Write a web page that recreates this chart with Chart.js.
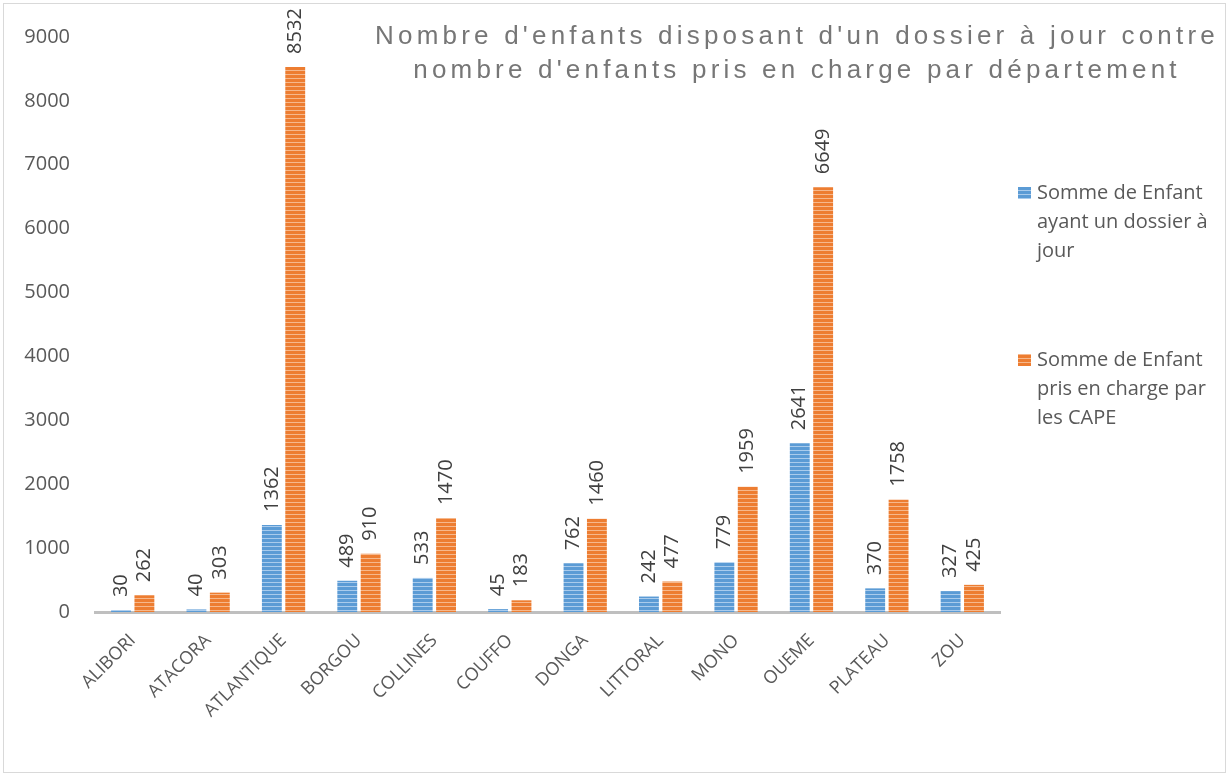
<!DOCTYPE html>
<html>
<head>
<meta charset="utf-8">
<script src="https://cdn.jsdelivr.net/npm/chart.js@4"></script>
<style>
  html, body { margin:0; padding:0; background:#fff; }
  #wrap { width:1228px; height:777px; }
</style>
</head>
<body>
<div id="wrap"><canvas id="chart" width="1228" height="777"></canvas></div>
<script>
/* données */
const departements = ['ALIBORI','ATACORA','ATLANTIQUE','BORGOU','COLLINES','COUFFO','DONGA','LITTORAL','MONO','OUEME','PLATEAU','ZOU']
const dossierAJour = [30,40,1362,489,533,45,762,242,779,2641,370,327]
const prisEnCharge = [262,303,8532,910,1470,183,1460,477,1959,6649,1758,425]
const yTicks = [0,1000,2000,3000,4000,5000,6000,7000,8000,9000]
const titre = ["Nombre d'enfants disposant d'un dossier à jour contre", "nombre d'enfants pris en charge par département"]
const legendes = [
	["Somme de Enfant", "ayant un dossier à", "jour"],
	["Somme de Enfant", "pris en charge par", "les CAPE"]
]

/* motif rayé horizontal */
function stripes(base, light){
	let c = document.createElement('canvas')
	c.width = 4
	c.height = 4
	let g = c.getContext('2d')
	g.fillStyle = base
	g.fillRect(0,0,4,4)
	g.fillStyle = light
	g.fillRect(0,2,4,1)
	return g.createPattern(c,'repeat')
}
const bleu = stripes('#5b9bd5','#a9cbec')
const orange = stripes('#ed7d31','#f6b88c')

const textFont = '"Open Sans", "Noto Sans", sans-serif'

/* étiquettes, titre, légende */
const decor = {
	id : 'decor'
	,afterDatasetsDraw(chart){
		const ctx = chart.ctx
		ctx.save()
		// valeurs verticales
		ctx.font = '20px ' + textFont
		ctx.fillStyle = '#404040'
		ctx.textAlign = 'left'
		ctx.textBaseline = 'middle'
		chart.data.datasets.forEach((ds, i) => {
			chart.getDatasetMeta(i).data.forEach((bar, j) => {
				ctx.save()
				ctx.translate(bar.x, bar.y - 13)
				ctx.rotate(-Math.PI/2)
				ctx.fillText(ds.data[j], 0, 0)
				ctx.restore()
			})
		})
		// titre
		ctx.font = '26px "Liberation Sans", Arial, sans-serif'
		ctx.fillStyle = '#767676'
		ctx.textAlign = 'center'
		ctx.letterSpacing = '4.2px'
		ctx.fillText(titre[0], 797, 37)
		ctx.fillText(titre[1], 797, 71)
		ctx.letterSpacing = '0px'
		// légende
		const couleurs = [bleu, orange]
		const tops = [193, 360]
		ctx.font = '20px ' + textFont
		ctx.textAlign = 'left'
		legendes.forEach((lignes, i) => {
			ctx.fillStyle = couleurs[i]
			ctx.fillRect(1018, tops[i]-6, 13, 12)
			ctx.fillStyle = '#595959'
			lignes.forEach((l, k) => {
				ctx.fillText(l, 1037, tops[i] + k*29)
			})
		})
		// cadre
		ctx.strokeStyle = '#d9d9d9'
		ctx.lineWidth = 1
		ctx.strokeRect(3.5, 3.5, 1222, 769)
		ctx.restore()
	}
}

new Chart(document.getElementById('chart'), {
	type : 'bar'
	,data : {
		labels : departements
		,datasets : [
			{
				label : legendes[0].join(' ')
				,data : dossierAJour
				,backgroundColor : bleu
				,categoryPercentage : 0.62
				,barPercentage : 0.85
			}
			,{
				label : legendes[1].join(' ')
				,data : prisEnCharge
				,backgroundColor : orange
				,categoryPercentage : 0.62
				,barPercentage : 0.85
			}
		]
	}
	,options : {
		responsive : false
		,animation : false
		,layout : { padding : { left : 0, top : 37, right : 228, bottom : 0 } }
		,plugins : {
			legend : { display : false }
			,tooltip : { enabled : false }
		}
		,scales : {
			x : {
				grid : { display : false }
				,border : { display : true, color : '#bfbfbf', width : 3 }
				,ticks : {
					minRotation : 45
					,maxRotation : 45
					,padding : 10
					,color : '#595959'
					,font : { family : textFont, size : 18 }
				}
				,afterFit(scale){ scale.height = 165 }
			}
			,y : {
				min : 0
				,max : 9000
				,afterBuildTicks(scale){ scale.ticks = yTicks.map(v => ({ value : v })) }
				,grid : { display : false }
				,border : { display : false }
				,ticks : {
					color : '#595959'
					,padding : 17
					,font : { family : textFont, size : 20 }
					,callback : v => String(v)
				}
				,afterFit(scale){ scale.width = 95 }
			}
		}
	}
	,plugins : [decor]
})
</script>
</body>
</html>
